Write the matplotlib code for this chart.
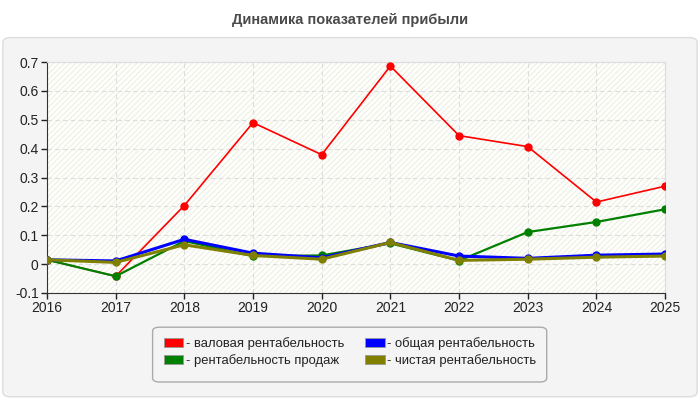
import matplotlib
matplotlib.use("Agg")
import matplotlib.pyplot as plt
from matplotlib.patches import FancyBboxPatch, Rectangle, Patch

plt.rcParams['font.family'] = ['Liberation Sans', 'DejaVu Sans']
plt.rcParams['hatch.color'] = '#e8e8e8'
plt.rcParams['hatch.linewidth'] = 0.6

years = [2016, 2017, 2018, 2019, 2020, 2021, 2022, 2023, 2024, 2025]
gross = [0.015, -0.042, 0.203, 0.490, 0.379, 0.686, 0.445, 0.407, 0.215, 0.270]
total = [0.015, 0.011, 0.086, 0.038, 0.022, 0.075, 0.028, 0.020, 0.031, 0.035]
sales = [0.015, -0.042, 0.080, 0.028, 0.030, 0.072, 0.012, 0.111, 0.146, 0.190]
net = [0.015, 0.006, 0.067, 0.030, 0.017, 0.075, 0.013, 0.017, 0.024, 0.028]

labels = ['- валовая рентабельность', '- общая рентабельность',
          '- рентабельность продаж', '- чистая рентабельность']
colors = ['#ff0000', '#0000ff', '#008000', '#808000']

fig = plt.figure(figsize=(7, 4), dpi=100)
fig.patch.set_facecolor('white')

# outer panel
panel = FancyBboxPatch((0.004, 0.008), 0.992, 0.898,
                       boxstyle='round,pad=0,rounding_size=0.012',
                       transform=fig.transFigure, fc='#f4f4f4', ec='#dddddd',
                       lw=1, zorder=-10)
fig.patches.append(panel)

fig.text(0.5, 0.951, 'Динамика показателей прибыли', ha='center', va='center',
         fontsize=10.5, fontweight='bold', color='#4a4a4a')

ax = fig.add_axes((0.0671, 0.2675, 0.883, 0.5775))
ax.set_facecolor('#fffffa')
ax.add_patch(Rectangle((0, 0), 1, 1, transform=ax.transAxes, fc='none',
                       hatch='//////', lw=0, zorder=0))

ax.plot(years, gross, color=colors[0], lw=1.2, marker='o', ms=5, zorder=3)
ax.plot(years, sales, color=colors[2], lw=1.6, marker='o', ms=5, zorder=4)
ax.plot(years, total, color=colors[1], lw=2.2, marker='o', ms=5, zorder=5)
ax.plot(years, net, color=colors[3], lw=2.2, marker='o', ms=5, zorder=6)

ax.set_xlim(2016, 2025)
ax.set_ylim(-0.1, 0.7)
ax.set_xticks(years)
ax.set_yticks([-0.1, 0, 0.1, 0.2, 0.3, 0.4, 0.5, 0.6, 0.7])
ax.set_yticklabels(['-0.1', '0', '0.1', '0.2', '0.3', '0.4', '0.5', '0.6', '0.7'])
ax.tick_params(labelsize=10, colors='#222222', length=4, width=1, pad=2)
ax.grid(True, ls=(0, (4, 3)), color='#dcdcdc', lw=0.8)
ax.set_axisbelow(True)
for s in ['top', 'right']:
    ax.spines[s].set_color('#dddddd')
for s in ['left', 'bottom']:
    ax.spines[s].set_color('#333333')

# legend box
lbox = FancyBboxPatch((0.218, 0.045), 0.563, 0.137,
                      boxstyle='round,pad=0,rounding_size=0.01',
                      transform=fig.transFigure, fc='#f4f4f4', ec='#aaaaaa',
                      lw=1, zorder=-5)
fig.patches.append(lbox)

# legend is filled column by column, so reorder to get row-wise layout
order = [0, 2, 1, 3]
handles = [Patch(fc=colors[i], ec='#999999', lw=0.6) for i in order]
leg = fig.legend(handles, [labels[i] for i in order], ncol=2, loc='center',
                 bbox_to_anchor=(0.5, 0.12), frameon=False, fontsize=9.4,
                 handlelength=1.5, handleheight=0.7, handletextpad=0.2,
                 columnspacing=1.6, labelspacing=0.3)
for t in leg.get_texts():
    t.set_color('#222222')

fig.savefig('out.png', dpi=100, facecolor=fig.get_facecolor())
